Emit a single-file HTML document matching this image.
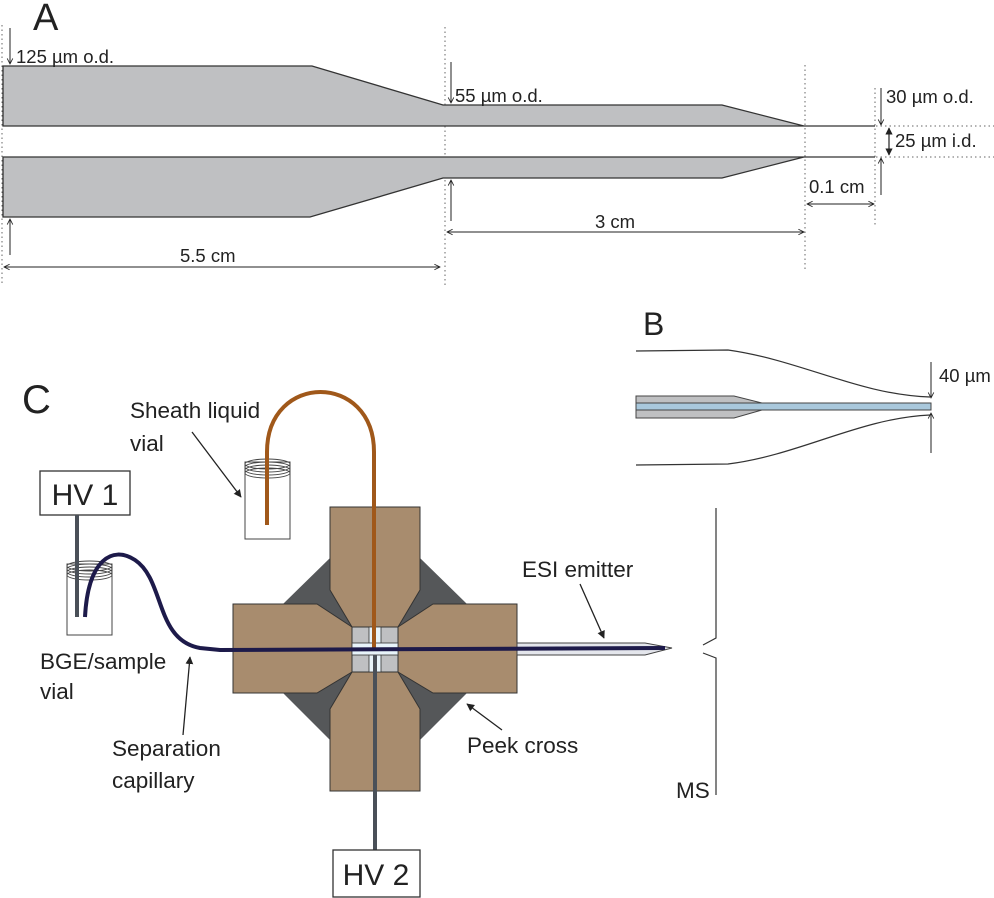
<!DOCTYPE html>
<html><head><meta charset="utf-8"><style>
html,body{margin:0;padding:0;background:#fff}
svg{display:block}
text{font-family:"Liberation Sans",sans-serif;fill:#222}
</style></head><body>
<svg width="994" height="898" viewBox="0 0 994 898" xmlns="http://www.w3.org/2000/svg">
<defs>
<marker id="ah" viewBox="0 0 10 10" refX="9" refY="5" markerWidth="7" markerHeight="7" orient="auto-start-reverse"><path d="M1,1 L9,5 L1,9" fill="none" stroke="#222" stroke-width="1.2"/></marker>
<marker id="af" viewBox="0 0 10 10" refX="9" refY="5" markerWidth="6" markerHeight="6" orient="auto-start-reverse"><path d="M0,0 L10,5 L0,10 z" fill="#222"/></marker>
</defs>
<!-- Panel A -->
<text x="33" y="30" font-size="38">A</text>
<g stroke="#666" stroke-width="1" stroke-dasharray="1.5,3" fill="none">
<line x1="2" y1="25" x2="2" y2="285"/><line x1="445" y1="27" x2="445" y2="287"/>
<line x1="805" y1="65" x2="805" y2="270"/><line x1="875" y1="88" x2="875" y2="225"/>
<line x1="876" y1="126" x2="994" y2="126"/><line x1="876" y1="157" x2="994" y2="157"/>
</g>
<polygon points="3,66 312,66 443,105 722,105 804,126 3,126" fill="#bfc0c2" stroke="#333" stroke-width="1.3"/>
<polygon points="3,157 804,157 722,178 443,178 310,217 3,217" fill="#bfc0c2" stroke="#333" stroke-width="1.3"/>
<line x1="804" y1="126" x2="875" y2="126" stroke="#333" stroke-width="1.2"/>
<line x1="804" y1="157" x2="875" y2="157" stroke="#333" stroke-width="1.2"/>
<g stroke="#222" stroke-width="1" fill="none" marker-end="url(#ah)">
<line x1="10" y1="28" x2="10" y2="64"/><line x1="10" y1="255" x2="10" y2="219"/>
<line x1="451" y1="62" x2="451" y2="103"/><line x1="451" y1="221" x2="451" y2="180"/>
<line x1="881" y1="88" x2="881" y2="125"/><line x1="881" y1="195" x2="881" y2="158"/>
<line x1="4" y1="267" x2="440" y2="267" marker-start="url(#ah)"/>
<line x1="447" y1="232" x2="804" y2="232" marker-start="url(#ah)"/>
<line x1="807" y1="204" x2="874" y2="204" marker-start="url(#ah)"/>
</g>
<line x1="889" y1="128" x2="889" y2="155" stroke="#222" stroke-width="1.2" marker-start="url(#af)" marker-end="url(#af)"/>
<g font-size="18.5">
<text x="16" y="63">125 µm o.d.</text>
<text x="455" y="102">55 µm o.d.</text>
<text x="886" y="103">30 µm o.d.</text>
<text x="895" y="147">25 µm i.d.</text>
<text x="809" y="193">0.1 cm</text>
<text x="595" y="228">3 cm</text>
<text x="180" y="262">5.5 cm</text>
</g>
<!-- Panel B -->
<text x="643" y="335" font-size="32">B</text>
<path d="M636,351 L728,350 C800,360 860,395 930,397" fill="none" stroke="#333" stroke-width="1.2"/>
<path d="M636,465 L728,464 C800,455 860,418 930,415" fill="none" stroke="#333" stroke-width="1.2"/>
<polygon points="636,396 734,396 762,403 762,410 734,418 636,418" fill="#bfc0c2" stroke="#444" stroke-width="1"/>
<rect x="636" y="403" width="295" height="7" fill="#a9c8dc" stroke="#444" stroke-width="1"/>
<g stroke="#222" stroke-width="1" marker-end="url(#ah)">
<line x1="931" y1="362" x2="931" y2="398"/><line x1="931" y1="453" x2="931" y2="413"/>
</g>
<text x="939" y="382" font-size="18.5">40 µm</text>
<!-- Panel C -->
<text x="22" y="413" font-size="40">C</text>
<g font-size="22.5">
<text x="130" y="418">Sheath liquid</text><text x="130" y="451">vial</text>
<text x="40" y="669">BGE/sample</text><text x="40" y="699">vial</text>
<text x="112" y="756">Separation</text><text x="112" y="788">capillary</text>
<text x="467" y="753">Peek cross</text>
<text x="522" y="577">ESI emitter</text>
<text x="676" y="798">MS</text>
</g>
<g stroke="#222" stroke-width="1.3" marker-end="url(#af)">
<line x1="192" y1="432" x2="241" y2="497"/>
<line x1="183" y1="735" x2="190" y2="657"/>
<line x1="502" y1="730" x2="467" y2="704"/>
<line x1="580" y1="584" x2="604" y2="638"/>
</g>
<!-- MS bracket -->
<path d="M716,508 L716,638 L703,645 M703,653 L716,658 L716,795" fill="none" stroke="#333" stroke-width="1.2"/>
<!-- vials -->
<rect x="245" y="462" width="45" height="77" fill="#fff" stroke="#444" stroke-width="1"/>
<g fill="none" stroke="#444" stroke-width="0.9">
<ellipse cx="267.5" cy="464" rx="22.5" ry="5"/><ellipse cx="267.5" cy="467" rx="22.5" ry="5"/><ellipse cx="267.5" cy="470" rx="22.5" ry="5"/><ellipse cx="267.5" cy="473" rx="22.5" ry="5"/>
</g>
<rect x="67" y="564" width="45" height="71" fill="#fff" stroke="#444" stroke-width="1"/>
<g fill="none" stroke="#444" stroke-width="0.9">
<ellipse cx="89.5" cy="566" rx="22.5" ry="5"/><ellipse cx="89.5" cy="569" rx="22.5" ry="5"/><ellipse cx="89.5" cy="572" rx="22.5" ry="5"/><ellipse cx="89.5" cy="575" rx="22.5" ry="5"/>
</g>
<!-- HV1 -->
<rect x="40" y="471" width="90" height="44" fill="#fff" stroke="#333" stroke-width="1.3"/>
<text x="85" y="505" font-size="30" text-anchor="middle">HV 1</text>
<line x1="77" y1="515" x2="77" y2="617" stroke="#4a5058" stroke-width="4"/>
<!-- cross -->
<polygon points="330,558 420,558 467,604 467,693 420,740 330,740 283,693 283,604" fill="#555759"/>
<g fill="#a88c6e" stroke="#333" stroke-width="1">
<polygon points="330,507 420,507 420,590 398,627 352,627 330,590"/>
<polygon points="330,791 420,791 420,709 398,672 352,672 330,709"/>
<polygon points="233,604 317,604 352,627 352,672 317,693 233,693"/>
<polygon points="517,604 433,604 398,627 398,672 433,693 517,693"/>
</g>
<rect x="352" y="627" width="46" height="45" fill="#bfc0c2" stroke="#333"/>
<rect x="369" y="627" width="12" height="45" fill="#e8f4fa" stroke="#333" stroke-width="0.8"/>
<rect x="352" y="643" width="46" height="12" fill="#e8f4fa" stroke="#333" stroke-width="0.8"/>
<!-- emitter -->
<polygon points="517,643 645,643 672,648 645,655 517,655" fill="#e4e6ec" stroke="#444" stroke-width="1"/>
<!-- tubes -->
<path d="M267,525 L267,452 C267,372 374,372 374,452 L374,648" fill="none" stroke="#a0581a" stroke-width="4"/>
<path d="M85,617 C88,560 112,545 135,560 C165,580 155,640 200,648 L220,650 L665,648" fill="none" stroke="#1d1a4a" stroke-width="4"/>
<line x1="375" y1="655" x2="375" y2="850" stroke="#4a5058" stroke-width="4"/>
<!-- HV2 -->
<rect x="333" y="850" width="87" height="47" fill="#fff" stroke="#333" stroke-width="1.3"/>
<text x="376" y="885" font-size="30" text-anchor="middle">HV 2</text>
</svg>
</body></html>
